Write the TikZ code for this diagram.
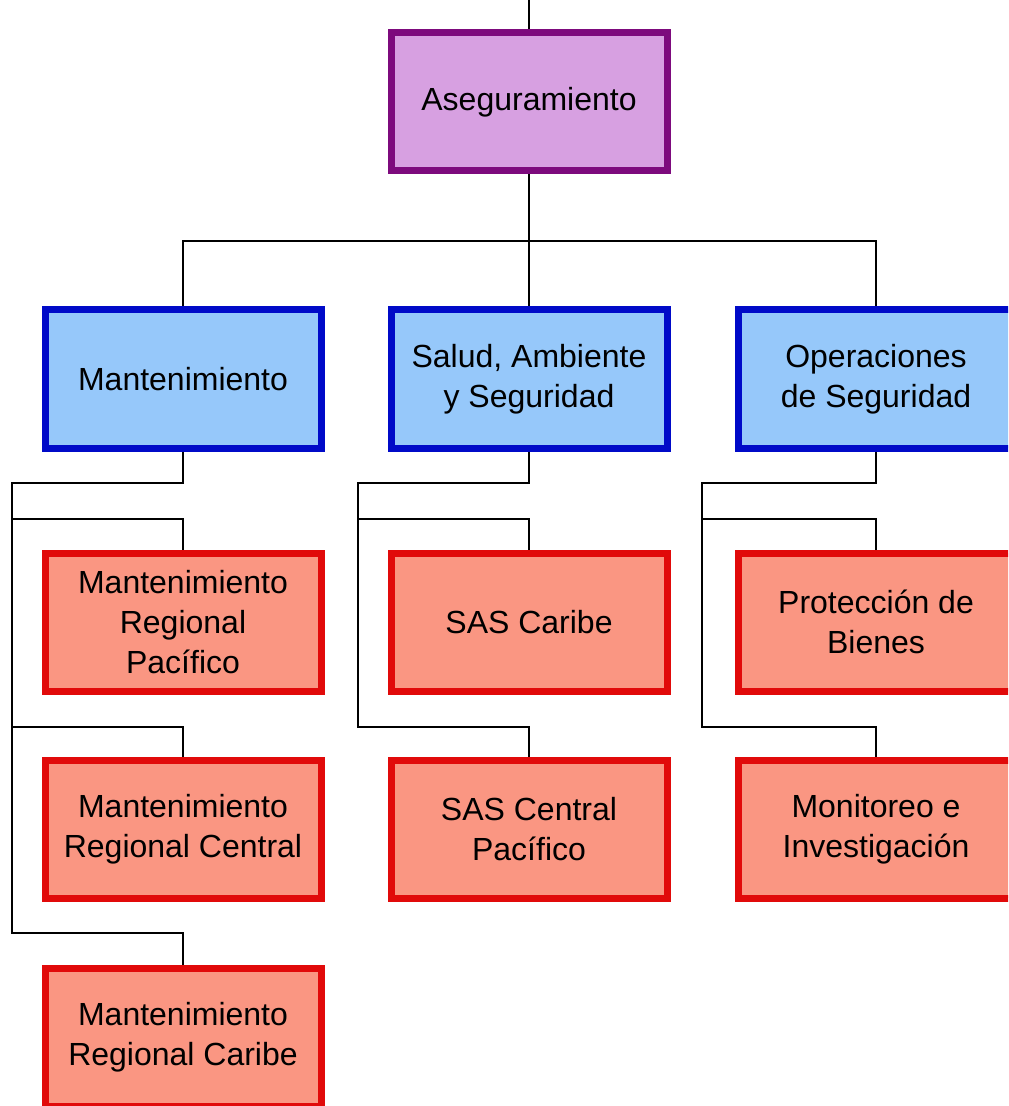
\documentclass[tikz,border=0pt]{standalone}
\usepackage{fontspec}
\setmainfont{Liberation Sans}
\definecolor{purpleline}{RGB}{125,10,125}
\definecolor{purplefill}{RGB}{215,160,225}
\definecolor{blueline}{RGB}{0,10,200}
\definecolor{bluefill}{RGB}{150,200,250}
\definecolor{redline}{RGB}{225,10,10}
\definecolor{redfill}{RGB}{250,150,130}
\tikzset{
  unit/.style={draw, line width=3.5pt, minimum width=138pt, minimum height=69pt,
    align=center, font=\fontsize{16}{20}\selectfont},
  head/.style={unit, draw=purpleline, fill=purplefill},
  area/.style={unit, draw=blueline, fill=bluefill},
  branch/.style={unit, draw=redline, fill=redfill},
  link/.style={line width=1pt, black}
}
\begin{document}
\begin{tikzpicture}[x=0.5pt, y=-0.5pt]
      \useasboundingbox (0,0) rectangle (1008,1106);
      \clip (0,0) rectangle (1008,1106);
      \node[head] (aseg) at (529,102) {Aseguramiento};
      \node[area] (mant) at (183,379) {Mantenimiento};
      \node[area] (salud) at (529,379) {Salud, Ambiente\\y Seguridad};
      \node[area] (oper) at (876,379) {Operaciones\\de Seguridad};
      \node[branch] (mpac) at (183,622) {Mantenimiento\\Regional\\Pacífico};
      \node[branch] (mcen) at (183,829) {Mantenimiento\\Regional Central};
      \node[branch] (mcar) at (183,1037) {Mantenimiento\\Regional Caribe};
      \node[branch] (scar) at (529,622) {SAS Caribe};
      \node[branch] (scen) at (529,829) {SAS Central\\Pacífico};
      \node[branch] (prot) at (876,622) {Protección de\\Bienes};
      \node[branch] (moni) at (876,829) {Monitoreo e\\Investigación};
      \coordinate (in) at (529,0);
      \coordinate (bus) at (529,241);
      \coordinate (mbus) at (12,483);
      \coordinate (sbus) at (358,483);
      \coordinate (obus) at (702,483);
      \coordinate (m1) at (183,519);
      \coordinate (m2) at (183,727);
      \coordinate (m3) at (183,933);
      \coordinate (s1) at (529,519);
      \coordinate (s2) at (529,727);
      \coordinate (o1) at (876,519);
      \coordinate (o2) at (876,727);
      \begin{scope}[on background layer/.try, link]
        \draw (in) -- (aseg.north);
        \draw (aseg.south) -- (bus);
        \draw (bus) -| (mant.north);
        \draw (bus) -- (salud.north);
        \draw (bus) -| (oper.north);
        \draw (mant.south) |- (mbus) |- (m1) -- (mpac.north);
        \draw (mbus) |- (m2) -- (mcen.north);
        \draw (mbus) |- (m3) -- (mcar.north);
        \draw (salud.south) |- (sbus) |- (s1) -- (scar.north);
        \draw (sbus) |- (s2) -- (scen.north);
        \draw (oper.south) |- (obus) |- (o1) -- (prot.north);
        \draw (obus) |- (o2) -- (moni.north);
      \end{scope}
    \end{tikzpicture}
\end{document}
